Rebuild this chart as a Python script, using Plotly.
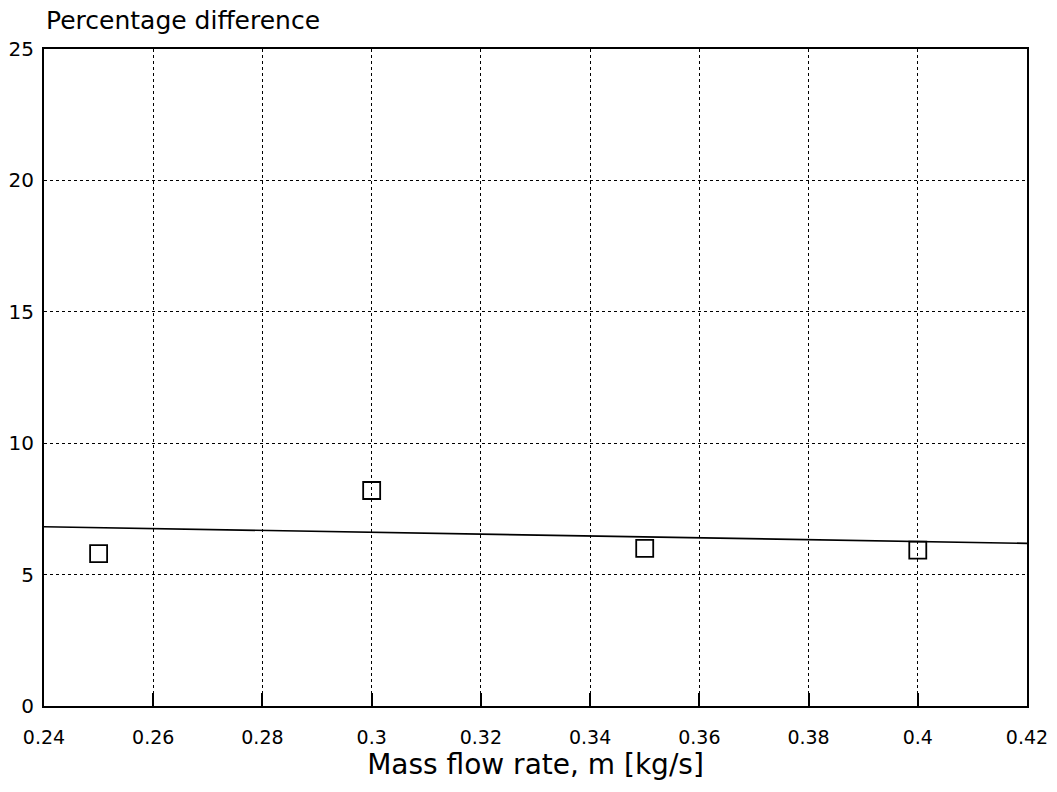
import plotly.graph_objects as go

# Data
mass_flow = [0.25, 0.30, 0.35, 0.40]
pct_diff = [5.8, 8.2, 6.0, 5.93]
fit_x = [0.24, 0.42]
fit_y = [6.82, 6.19]

x_ticks = [0.24, 0.26, 0.28, 0.30, 0.32, 0.34, 0.36, 0.38, 0.40, 0.42]
x_tick_labels = ["0.24", "0.26", "0.28", "0.3", "0.32", "0.34", "0.36", "0.38", "0.4", "0.42"]
y_ticks = [0, 5, 10, 15, 20, 25]

font_family = "DejaVu Sans, Liberation Sans, sans-serif"

fig = go.Figure()
fig.add_trace(go.Scatter(x=fit_x, y=fit_y, mode="lines",
                         line=dict(color="black", width=1.6), showlegend=False))
fig.add_trace(go.Scatter(x=mass_flow, y=pct_diff, mode="markers",
                         marker=dict(symbol="square-open", size=17, color="black",
                                     line=dict(width=1.8, color="black")),
                         showlegend=False))

fig.update_layout(
    width=1057, height=792,
    margin=dict(l=44, r=30, t=49, b=86),
    paper_bgcolor="white", plot_bgcolor="white",
    font=dict(family=font_family, color="black", size=19),
    xaxis=dict(range=[0.24, 0.42], tickvals=x_ticks, ticktext=x_tick_labels,
               showgrid=True, gridcolor="black", griddash="dot", gridwidth=1,
               showline=True, linecolor="black", linewidth=2, mirror=True,
               ticks="inside", ticklen=13, tickcolor="black", tickwidth=2,
               zeroline=False, ticklabelstandoff=13, automargin=False,
               title=dict(text="Mass flow rate, m [kg/s]", font=dict(size=28), standoff=4),
               tickfont=dict(size=19)),
    yaxis=dict(range=[0, 25], tickvals=y_ticks,
               showgrid=True, gridcolor="black", griddash="dot", gridwidth=1,
               showline=True, linecolor="black", linewidth=2, mirror=True,
               ticks="", zeroline=False, tickfont=dict(size=20),
               ticklabelstandoff=4, automargin=False),
    annotations=[dict(text="Percentage difference", xref="paper", yref="paper",
                      x=0.0, y=1.0, xanchor="left", yanchor="bottom", yshift=12,
                      showarrow=False, font=dict(size=25, family=font_family))],
)

fig.write_html("out.html")
